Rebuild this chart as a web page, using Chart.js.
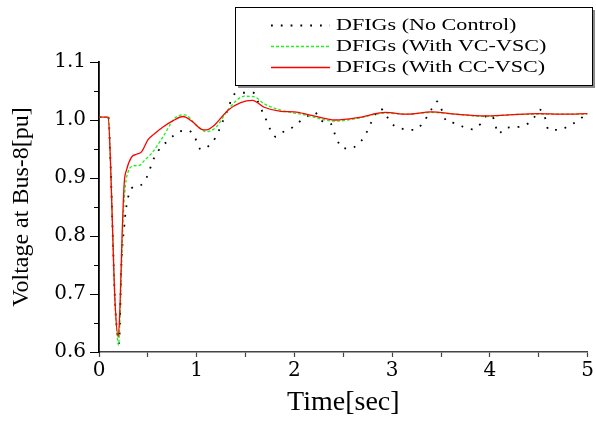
<!DOCTYPE html>
<html>
<head>
<meta charset="utf-8">
<script src="https://cdn.jsdelivr.net/npm/chart.js@4/dist/chart.umd.min.js"></script>
<style>
html,body{margin:0;padding:0;background:#fff;}
#wrap{width:596px;height:421px;}
</style>
</head>
<body>
<div id="wrap"><canvas id="c" width="596" height="421"></canvas></div>
<script>
// ---- data ----
const seriesLabels = ['DFIGs (No Control)', 'DFIGs (With VC-VSC)', 'DFIGs (With CC-VSC)'];

const tNoControl = [0, 0.095, 0.119, 0.14, 0.163, 0.185, 0.204, 0.231, 0.258, 0.275, 0.3, 0.33, 0.43, 0.485, 0.57, 0.69, 0.876, 0.96, 1.045, 1.12, 1.19, 1.26, 1.32, 1.38, 1.47, 1.58, 1.62, 1.69, 1.81, 1.88, 1.96, 2.05, 2.13, 2.21, 2.27, 2.37, 2.43, 2.5, 2.58, 2.64, 2.71, 2.82, 2.88, 2.93, 3.0, 3.1, 3.23, 3.31, 3.4, 3.46, 3.5, 3.56, 3.64, 3.73, 3.82, 3.91, 3.98, 4.03, 4.09, 4.15, 4.29, 4.39, 4.46, 4.51, 4.56, 4.6, 4.7, 4.84, 4.92, 5.0];
const vNoControl = [1.005, 1.005, 0.92, 0.805, 0.69, 0.635, 0.615, 0.759, 0.816, 0.845, 0.868, 0.882, 0.888, 0.9, 0.937, 0.962, 0.982, 0.977, 0.949, 0.955, 0.969, 0.995, 1.019, 1.044, 1.047, 1.047, 1.034, 1.008, 0.971, 0.979, 0.985, 0.997, 1.006, 1.013, 0.999, 0.994, 0.968, 0.951, 0.951, 0.957, 0.97, 1.007, 1.02, 1.01, 0.993, 0.985, 0.983, 0.994, 1.018, 1.032, 1.02, 0.997, 0.995, 0.988, 0.984, 0.994, 1.009, 1.005, 0.976, 0.986, 0.988, 0.994, 1.006, 1.018, 1.006, 0.983, 0.983, 0.993, 1.001, 1.014];

const tVC = [0, 0.095, 0.119, 0.14, 0.163, 0.185, 0.2, 0.215, 0.231, 0.248, 0.271, 0.299, 0.35, 0.417, 0.468, 0.536, 0.655, 0.774, 0.876, 0.995, 1.1, 1.2, 1.33, 1.49, 1.59, 1.69, 1.86, 2.1, 2.42, 2.65, 2.93, 3.15, 3.4, 3.65, 3.95, 4.2, 4.49, 4.75, 5.0];
const vVC = [1.005, 1.005, 0.92, 0.805, 0.69, 0.63, 0.612, 0.66, 0.747, 0.833, 0.888, 0.911, 0.921, 0.922, 0.931, 0.942, 0.971, 1.003, 1.009, 0.991, 0.98, 0.988, 1.02, 1.041, 1.040, 1.028, 1.017, 1.009, 0.998, 1.003, 1.012, 1.010, 1.013, 1.010, 1.006, 1.009, 1.010, 1.010, 1.010];

const tCC = [0, 0.095, 0.119, 0.14, 0.163, 0.197, 0.215, 0.237, 0.258, 0.282, 0.333, 0.384, 0.435, 0.502, 0.58, 0.655, 0.75, 0.86, 0.95, 1.05, 1.1, 1.18, 1.32, 1.45, 1.57, 1.69, 1.86, 2.0, 2.15, 2.42, 2.65, 2.93, 3.15, 3.4, 3.65, 3.95, 4.2, 4.49, 4.75, 5.0];
const vCC = [1.005, 1.005, 0.92, 0.805, 0.69, 0.626, 0.68, 0.805, 0.891, 0.914, 0.936, 0.941, 0.945, 0.966, 0.978, 0.988, 0.998, 1.006, 0.998, 0.984, 0.983, 0.991, 1.017, 1.030, 1.034, 1.022, 1.015, 1.014, 1.009, 1.0, 1.004, 1.013, 1.010, 1.014, 1.010, 1.007, 1.009, 1.011, 1.010, 1.011];

const xTickValues = [0, 1, 2, 3, 4, 5];
const yTickValues = [0.6, 0.7, 0.8, 0.9, 1.0, 1.1];
const yMinorTicks = [0.65, 0.75, 0.85, 0.95, 1.05];
const xTitle = 'Time[sec]';
const yTitle = 'Voltage at Bus-8[pu]';

function pts(t, v) { return t.map((x, i) => ({x: x, y: v[i]})); }

const styles = [
  {color: '#000000', width: 1.8, dash: [1.8, 8]},
  {color: '#1ff01f', width: 1.3, dash: [3, 2]},
  {color: '#ff0000', width: 1.3, dash: []}
];

// custom boxed legend with shadow
const boxLegend = {
  id: 'boxLegend',
  afterDraw(chart) {
    const ctx = chart.ctx;
    const x0 = 235, y0 = 7, w = 357, h = 78;
    ctx.save();
    ctx.fillStyle = '#8a8a8a';
    ctx.fillRect(x0 + 3, y0 + 3, w, h);
    ctx.fillStyle = '#ffffff';
    ctx.fillRect(x0, y0, w, h);
    ctx.strokeStyle = '#000';
    ctx.lineWidth = 1;
    ctx.strokeRect(x0 + 0.5, y0 + 0.5, w, h);
    const rows = [25, 46, 67];
    [0, 1, 2].forEach((k, i) => {
      const s = styles[k];
      const y = rows[i];
      ctx.strokeStyle = s.color;
      ctx.lineWidth = s.width;
      ctx.setLineDash(s.dash);
      ctx.beginPath();
      ctx.moveTo(271, y + 0.5);
      ctx.lineTo(330, y + 0.5);
      ctx.stroke();
      ctx.setLineDash([]);
      ctx.fillStyle = '#000';
      ctx.font = "17px 'Liberation Serif'";
      ctx.textBaseline = 'middle';
      ctx.save();
      ctx.translate(336, y + 1);
      ctx.scale(1.3, 1);
      ctx.fillText(seriesLabels[k], 0, 0);
      ctx.restore();
    });
    ctx.restore();
  }
};

// minor y ticks (shorter) drawn at the library's scale positions
const minorTicks = {
  id: 'minorTicks',
  afterDraw(chart) {
    const ctx = chart.ctx;
    const ys = chart.scales.y;
    ctx.save();
    ctx.strokeStyle = '#000';
    ctx.lineWidth = 1;
    yMinorTicks.forEach(v => {
      const py = Math.round(ys.getPixelForValue(v)) + 0.5;
      ctx.beginPath();
      ctx.moveTo(ys.right - 5, py);
      ctx.lineTo(ys.right, py);
      ctx.stroke();
    });
    ctx.restore();
  }
};

const datasets = [
  {label: seriesLabels[2], data: pts(tCC, vCC), order: 0},
  {label: seriesLabels[1], data: pts(tVC, vVC), order: 1},
  {label: seriesLabels[0], data: pts(tNoControl, vNoControl), order: 2}
].map(d => {
  const s = styles[seriesLabels.indexOf(d.label)];
  return Object.assign(d, {
    borderColor: s.color, backgroundColor: s.color, borderWidth: s.width,
    borderDash: s.dash, pointRadius: 0, fill: false,
    cubicInterpolationMode: 'monotone'
  });
});

new Chart(document.getElementById('c'), {
  type: 'line',
  data: {datasets: datasets},
  options: {
    responsive: false,
    animation: false,
    devicePixelRatio: 1,
    layout: {padding: {top: 62, right: 6, bottom: 0, left: 0}},
    plugins: {legend: {display: false}, tooltip: {enabled: false}},
    scales: {
      x: {
        type: 'linear', min: 0, max: 5,
        afterFit(s) { s.height = 69; },
        border: {display: true, color: '#444', width: 1.5},
        grid: {drawOnChartArea: false, drawTicks: true, tickLength: 5, tickColor: '#444', tickWidth: 1.2},
        ticks: {
          stepSize: 0.5, padding: 2, color: '#000', maxRotation: 0,
          font: {family: "'DejaVu Serif'", size: 20},
          callback: v => xTickValues.includes(v) ? String(v) : ''
        },
        title: {display: true, text: xTitle, color: '#000',
          font: {family: "'Liberation Serif'", size: 28}, padding: {top: 0, bottom: 2}}
      },
      y: {
        type: 'linear', min: 0.6, max: 1.1,
        afterFit(s) { s.width = 99; },
        border: {display: true, color: '#000', width: 1.8},
        grid: {drawOnChartArea: false, drawTicks: true, tickLength: 9, tickColor: '#000', tickWidth: 1},
        ticks: {
          stepSize: 0.1, padding: 4, color: '#000',
          font: {family: "'DejaVu Serif'", size: 20},
          callback: v => {
            const r = Math.round(v * 10) / 10;
            return yTickValues.includes(r) ? r.toFixed(1) : '';
          }
        },
        title: {display: true, text: yTitle, color: '#000',
          font: {family: "'Liberation Serif'", size: 24}, padding: {top: 7, bottom: 0}}
      }
    }
  },
  plugins: [minorTicks, boxLegend]
});
</script>
</body>
</html>
